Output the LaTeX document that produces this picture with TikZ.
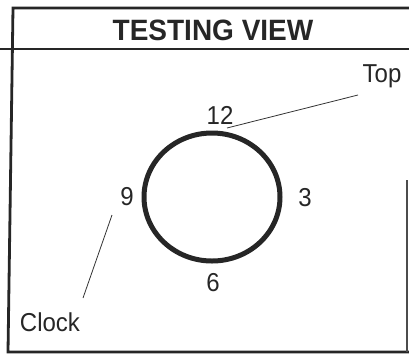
\documentclass[tikz,border=0pt]{standalone}
\usepackage{fontspec}
\setmainfont{Liberation Sans}
\usetikzlibrary{shapes.geometric}
\begin{document}
\begin{tikzpicture}[x=1pt,y=-1pt,
  frame/.style={line width=2.8pt,black!85},
  lbl/.style={inner sep=0pt,font=\fontsize{24}{26}\selectfont,yscale=1.08,text=black!85},
  leader/.style={line width=0.8pt,black!80}]
\useasboundingbox (0,0) rectangle (409,354);
% frame
\coordinate (tl) at (13,8);
\coordinate (tr) at (409,8);
\coordinate (ml) at (0,49);
\coordinate (mr) at (409,49);
\coordinate (bl) at (8,352);
\coordinate (br) at (409,352);
\coordinate (rt) at (407,180);
\coordinate (rb) at (407,352);
\draw[frame] (tr) -- (tl) -- (bl) -- (br);
\draw[frame] (ml) -- (mr);
\draw[line width=1.4pt,black!70] (rt) -- (rb);
\node[inner sep=0pt,font=\fontsize{28}{30}\selectfont\bfseries,yscale=1.05,text=black!85] (title) at (213,30) {TESTING VIEW};
% clock
\node[ellipse,draw=black!85,line width=5pt,minimum width=136pt,minimum height=128pt,inner sep=0pt] (clk) at (212,197) {};
\node[lbl] (n12) at (220,115) {12};
\node[lbl] (n3) at (305,198) {3};
\node[lbl] (n9) at (127,197) {9};
\node[lbl] (n6) at (213,283) {6};
\node[lbl] (top) at (382,76) {Top};
\node[lbl] (clock) at (50,322) {Clock};
\coordinate (topa) at (227,128);
\coordinate (topb) at (358,95);
\coordinate (cla) at (112,215);
\coordinate (clb) at (83,298);
\draw[leader] (topa) -- (topb);
\draw[leader] (cla) -- (clb);
\end{tikzpicture}
\end{document}
